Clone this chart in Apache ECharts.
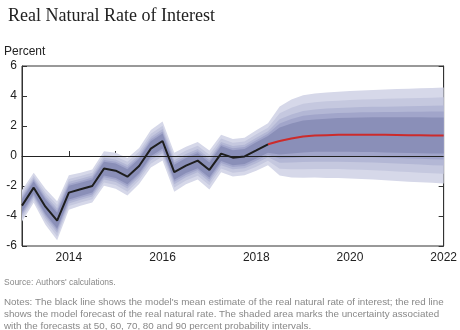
<!DOCTYPE html>
<html>
<head>
<meta charset="utf-8">
<script src="https://cdn.jsdelivr.net/npm/echarts@6/dist/echarts.min.js"></script>
<style>html,body{margin:0;padding:0;background:#fff}#c{width:460px;height:330px}</style>
</head>
<body>
<div id="c"></div>
<script>
// quarters from 2013.0 to 2022.0
const quarters = [2013,2013.25,2013.5,2013.75,2014,2014.25,2014.5,2014.75,2015,2015.25,2015.5,2015.75,2016,2016.25,2016.5,2016.75,2017,2017.25,2017.5,2017.75,2018,2018.25,2018.5,2018.75,2019,2019.25,2019.5,2019.75,2020,2020.25,2020.5,2020.75,2021,2021.25,2021.5,2021.75,2022];
// mean estimate (black), 2013.0 - 2018.25
const estimate = [-3.31,-2.11,-3.38,-4.31,-2.44,-2.22,-2.0,-0.84,-0.98,-1.38,-0.67,0.49,1.0,-1.08,-0.64,-0.31,-0.93,0.16,-0.11,-0.03,0.37,0.78];
// model forecast (red), 2018.25 - 2022.0
const forecast = [0.78,1.0,1.17,1.3,1.36,1.39,1.41,1.42,1.42,1.42,1.41,1.40,1.39,1.38,1.37,1.36];
// half-widths of probability intervals for each quarter
const band90 = [1.05,1.0,1.2,1.3,1.15,1.1,1.1,1.15,1.2,1.25,1.2,1.25,1.3,1.3,1.25,1.25,1.3,1.25,1.25,1.25,1.35,1.4,2.3,2.6,2.75,2.8,2.85,2.88,2.92,2.95,2.98,3.02,3.06,3.1,3.13,3.16,3.2];
const band80 = [0.85,0.8,0.95,1.05,0.9,0.88,0.88,0.92,0.95,1.0,0.95,1.0,1.02,1.02,1.0,1.0,1.02,1.0,1.0,1.0,1.08,1.1,1.85,2.05,2.18,2.22,2.26,2.28,2.32,2.34,2.37,2.4,2.43,2.46,2.49,2.52,2.55];
const band70 = [0.68,0.64,0.75,0.82,0.72,0.7,0.7,0.72,0.75,0.78,0.75,0.78,0.8,0.8,0.78,0.78,0.8,0.78,0.78,0.78,0.85,0.87,1.45,1.6,1.7,1.74,1.77,1.79,1.82,1.84,1.86,1.88,1.9,1.93,1.95,1.98,2.0];
const band60 = [0.55,0.52,0.6,0.66,0.58,0.56,0.56,0.58,0.6,0.63,0.6,0.63,0.64,0.64,0.63,0.63,0.64,0.63,0.63,0.63,0.68,0.7,1.17,1.3,1.38,1.4,1.43,1.45,1.47,1.49,1.5,1.52,1.54,1.56,1.57,1.59,1.6];
const band50 = [0.43,0.41,0.48,0.52,0.46,0.44,0.44,0.46,0.48,0.5,0.48,0.5,0.5,0.5,0.5,0.5,0.5,0.5,0.5,0.5,0.54,0.56,0.9,1.0,1.06,1.08,1.1,1.12,1.13,1.15,1.16,1.17,1.18,1.19,1.2,1.2,1.2];
const yTicks = [-6,-4,-2,0,2,4,6];
const xLabels = [2014,2016,2018,2020,2022];

const center = estimate.slice(0, estimate.length - 1).concat(forecast);
const bands = [
  {w: band90, color: '#d6d8e9'},
  {w: band80, color: '#c5c8df'},
  {w: band70, color: '#b3b7d5'},
  {w: band60, color: '#a1a5ca'},
  {w: band50, color: '#8a8fb8'}
];

const series = [];
series.push({
  type: 'custom', silent: true, clip: true, z: 1,
  data: bands.map((b, i) => [2013, i]),
  encode: {x: 0, y: 1},
  renderItem: function (params, api) {
    const b = bands[params.dataIndex];
    const upper = quarters.map((q, k) => api.coord([q, center[k] + b.w[k]]));
    const lower = quarters.map((q, k) => api.coord([q, center[k] - b.w[k]])).reverse();
    return {
      type: 'polygon',
      shape: {points: upper.concat(lower)},
      style: {fill: b.color, stroke: null}
    };
  }
});
series.push({
  type: 'line', symbol: 'none', z: 6,
  lineStyle: {color: '#cc2b2b', width: 2},
  data: quarters.slice(estimate.length - 1).map((q, k) => [q, forecast[k]])
});
series.push({
  type: 'line', symbol: 'none', z: 7,
  lineStyle: {color: '#1e1e1e', width: 2},
  data: quarters.slice(0, estimate.length).map((q, k) => [q, estimate[k]]),
  markLine: {
    silent: true, symbol: 'none', label: {show: false},
    lineStyle: {color: '#222', width: 1, type: 'solid'},
    data: [{yAxis: 0}]
  }
});

const chart = echarts.init(document.getElementById('c'), null, {renderer: 'canvas'});
const font = '"Liberation Sans", Arial, sans-serif';
chart.setOption({
  animation: false,
  backgroundColor: '#fff',
  title: {
    text: 'Real Natural Rate of Interest', left: 3, top: 2,
    textStyle: {fontFamily: '"Liberation Serif", serif', fontSize: 18, fontWeight: 'normal', color: '#222'}
  },
  graphic: [
    {type: 'text', left: 4, top: 46, style: {text: 'Percent', font: '12px ' + font, fill: '#222'}},
    {type: 'text', left: 4, top: 278, style: {text: "Source: Authors' calculations.", font: '8.5px ' + font, fill: '#888'}},
    {type: 'text', left: 4, top: 296, style: {text: "Notes: The black line shows the model's mean estimate of the real natural rate of interest; the red line\nshows the model forecast of the real natural rate. The shaded area marks the uncertainty associated\nwith the forecasts at 50, 60, 70, 80 and 90 percent probability intervals.", font: '9.8px ' + font, fill: '#888', lineHeight: 12}}
  ],
  grid: {left: 22, right: 15, top: 66, height: 180, show: true, borderColor: '#333', borderWidth: 1, backgroundColor: 'transparent'},
  xAxis: {
    type: 'value', min: 2013, max: 2022, interval: 1,
    splitLine: {show: false},
    axisLine: {lineStyle: {color: '#333', width: 1}},
    axisTick: {inside: true, length: 5, lineStyle: {color: '#333'}},
    axisLabel: {
      color: '#222', fontSize: 12, fontFamily: font, margin: 6, showMaxLabel: true, showMinLabel: true,
      formatter: v => xLabels.indexOf(v) >= 0 ? String(v) : ''
    }
  },
  yAxis: [
    {
      type: 'value', min: yTicks[0], max: yTicks[yTicks.length - 1], interval: 2,
      splitLine: {show: false},
      axisLine: {show: true, lineStyle: {color: '#333', width: 1}},
      axisTick: {show: true, inside: true, length: 5, lineStyle: {color: '#333'}},
      axisLabel: {color: '#222', fontSize: 12, fontFamily: font, margin: 5}
    },
    {
      type: 'value', position: 'right', min: yTicks[0], max: yTicks[yTicks.length - 1], interval: 2,
      splitLine: {show: false},
      axisLine: {show: true, lineStyle: {color: '#333', width: 1}},
      axisTick: {show: true, inside: true, length: 5, lineStyle: {color: '#333'}},
      axisLabel: {show: false}
    }
  ],
  series: series
});
</script>
</body>
</html>
